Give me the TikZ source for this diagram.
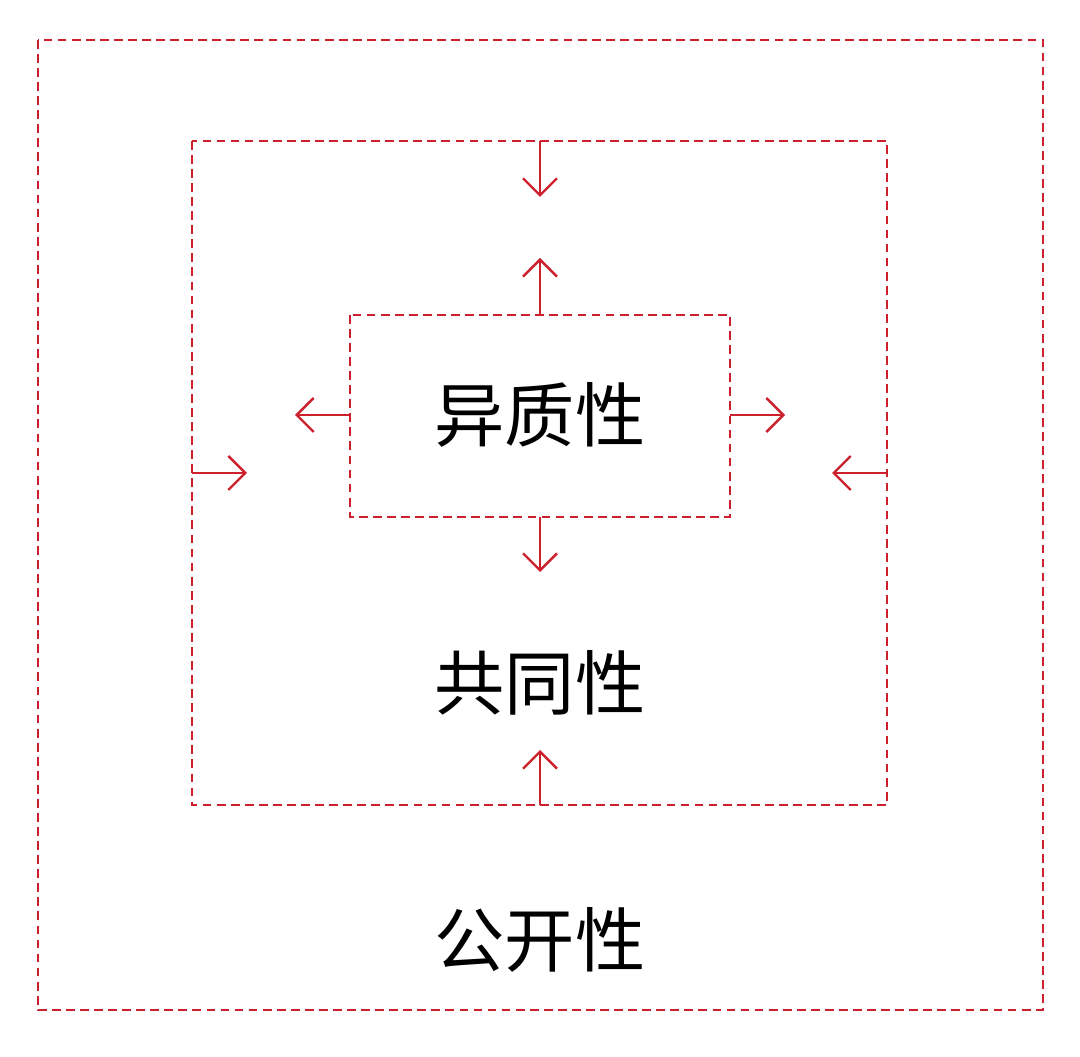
\documentclass[tikz,border=0pt]{standalone}
\usepackage{fontspec}
\newfontfamily\cjk{Noto Sans CJK SC}
\usetikzlibrary{arrows.meta, positioning}

\definecolor{boxred}{RGB}{204,32,45}

\begin{document}
\begin{tikzpicture}[
            x = 0.02cm, y = -0.02cm, % pixel grid of the reference
            > = {Straight Barb[length=3.4mm, width=6.8mm]},
            dashbox/.style = {draw = boxred, line width = 1.4pt,
                dash pattern = on 5pt off 3pt, inner sep = 0pt},
            push/.style = {->, draw = boxred, line width = 1.4pt},
            label/.style = {font = \cjk\fontsize{40}{40}\selectfont}
        ]

        \useasboundingbox (0,0) rectangle (1080,1057);

        \draw[dashbox] (38,40) rectangle (1043,1010);
        \draw[dashbox] (192,141) rectangle (887,805);
        \draw[dashbox] (350,315) rectangle (730,517);

        \node[label] (inner) at (540,415) {异质性};
        \node[label] (middle) at (540,683) {共同性};
        \node[label] (outer) at (540,940) {公开性};

        % arrows from the middle box inwards
        \coordinate (mt) at (540,141);   \coordinate (mte) at (540,197);
        \coordinate (mb) at (540,805);   \coordinate (mbe) at (540,750);
        \coordinate (ml) at (192,473);   \coordinate (mle) at (247,473);
        \coordinate (mr) at (887,473);   \coordinate (mre) at (832,473);

        % arrows from the inner box outwards
        \coordinate (it) at (540,315);   \coordinate (ite) at (540,258);
        \coordinate (ib) at (540,517);   \coordinate (ibe) at (540,572);
        \coordinate (il) at (350,415);   \coordinate (ile) at (295,415);
        \coordinate (ir) at (730,415);   \coordinate (ire) at (785,415);

        \foreach \a in {mt, mb, ml, mr, it, ib, il, ir}
            \draw[push] (\a) -- (\a e);
    \end{tikzpicture}
\end{document}
